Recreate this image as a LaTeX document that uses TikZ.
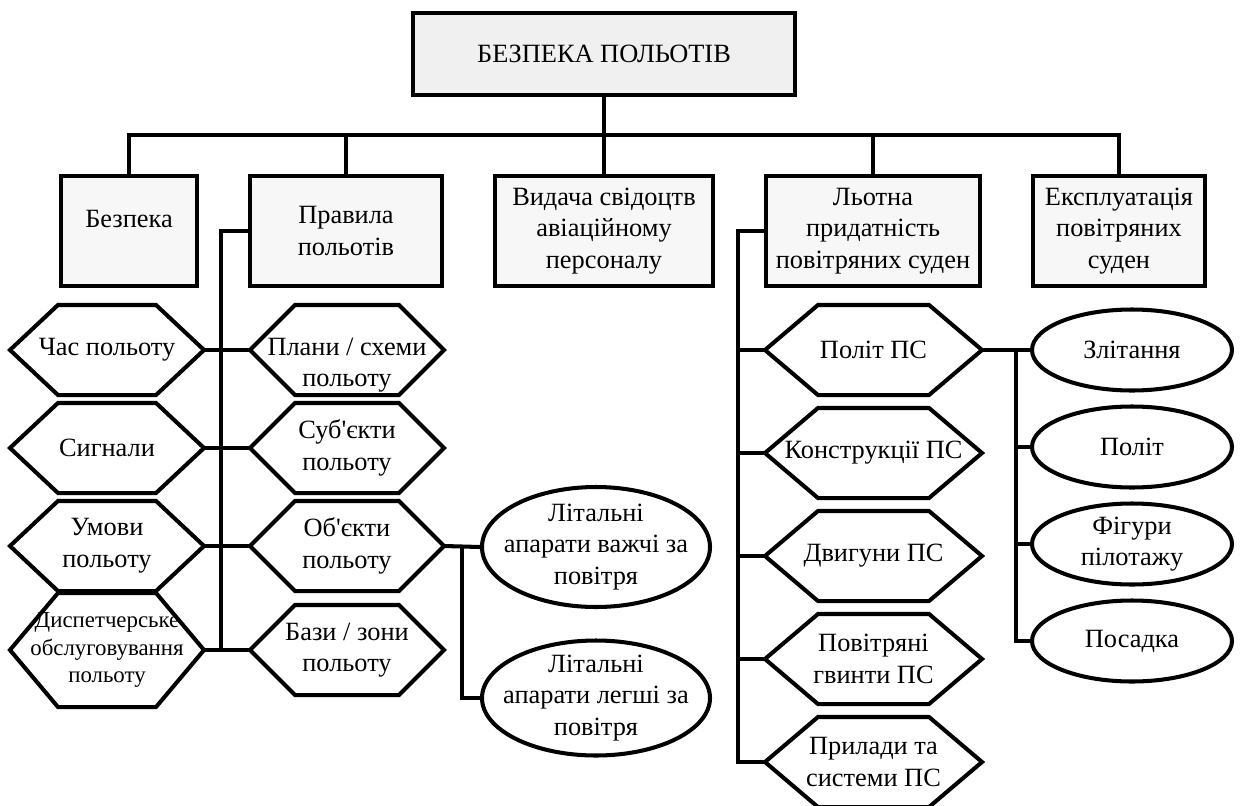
\documentclass[tikz,border=0pt]{standalone}
\usepackage{fontspec}
\setmainfont{Liberation Serif}[Ligatures=TeXOff]
\usetikzlibrary{positioning,calc,shapes.geometric}

\begin{document}
\begin{tikzpicture}[
    basic/.style={draw,line width=2.3pt,inner sep=0pt,align=center,font=\fontsize{15}{18}\selectfont},
    head/.style={basic,rectangle,fill=gray!12},
    section/.style={basic,rectangle,fill=gray!6,minimum height=2.2cm},
    hexa/.style={basic,draw=none,minimum width=3.8cm,minimum height=1.72cm},
    oval/.style={basic,ellipse,inner sep=-0.3cm},
    link/.style={line width=2.3pt},
    node distance=1.96cm, on grid,
]
\useasboundingbox (0,0) rectangle (25.02,-16.1);

        \node[head,minimum width=7.64cm,minimum height=1.64cm] (top) at (12.08,-1.08) {БЕЗПЕКА ПОЛЬОТІВ};
        \coordinate (bus) at ([yshift=-0.76cm]top.south);

        % second row
        \node[section,minimum width=2.72cm] (bez) at (2.58,-4.62) {\rule[-0.48cm]{0pt}{0.48cm}Безпека};
        \node[section,minimum width=3.84cm] (prav) at (6.92,-4.62) {Правила\\польотів};
        \node[section,minimum width=4.36cm] (vyd) at (12.08,-4.62) {Видача свідоцтв\\авіаційному\\персоналу};
        \node[section,minimum width=4.28cm] (lot) at (17.46,-4.62) {Льотна\\придатність\\повітряних суден};
        \node[section,minimum width=3.44cm] (eks) at (22.38,-4.62) {Експлуатація\\повітряних\\суден};
            \draw[link] (top.south) -- (bus);
        \foreach \b in {bez,prav,vyd,lot,eks}
            \draw[link] (\b.north) |- (bus);

        % rules of flight
        \node[hexa] (h1) at (2.14,-7.0) {Час польоту};
        \node[hexa,below=of h1] (h2) {Сигнали};
        \node[hexa,below=of h2] (h3) {Умови\\польоту};
        \node[hexa,below=2.08cm of h3,minimum height=2.2cm,font=\fontsize{13}{15.5}\selectfont] (h4) {Диспетчерське\\обслуговування\\польоту};
        \node[hexa] (p1) at (6.94,-7.0) {\rule{0pt}{0.95cm}Плани / схеми\\польоту};
        \node[hexa,below=of p1] (p2) {Суб'єкти\\польоту};
        \node[hexa,below=of p2] (p3) {Об'єкти\\польоту};
        \node[hexa,below=2.08cm of p3] (p4) {Бази / зони\\польоту};
        \coordinate (pb) at ([xshift=-0.58cm]p4.west);
            \draw[link] (prav.west) -| (pb);
        \foreach \i in {1,...,4}
            \draw[link] (h\i.east) -- (p\i.west);

        \node[oval,minimum width=4.56cm,minimum height=2.4cm] (e1) at (11.92,-10.94) {Літальні\\апарати важчі за\\повітря};
        \node[oval,minimum width=4.56cm,minimum height=2.3cm,below=3.02cm of e1] (e2) {Літальні\\апарати легші за\\повітря};
            \draw[link] (p3.east) -- (e1.west);
            \draw[link] ($(p3.east)!.5!(e1.west)$) |- (e2.west);

        % airworthiness
        \node[hexa,minimum width=4.26cm] (l1) at (17.47,-7.0) {Політ ПС};
        \node[hexa,minimum width=4.26cm,below=2.06cm of l1] (l2) {Конструкції ПС};
        \node[hexa,minimum width=4.26cm,below=2.06cm of l2] (l3) {Двигуни ПС};
        \node[hexa,minimum width=4.26cm,below=2.06cm of l3] (l4) {Повітряні\\гвинти ПС};
        \node[hexa,minimum width=4.26cm,below=2.06cm of l4] (l5) {Прилади та\\системи ПС};
        \coordinate (lb) at ([xshift=-0.54cm]l5.west);
            \draw[link] (lot.west) -| (lb) -- (l5.west);
        \foreach \i in {1,...,4}
            \draw[link] (l\i.west) -- (l\i.west -| lb);

        \node[oval,minimum width=4cm,minimum height=1.62cm] (z1) at (22.64,-7.0) {Злітання};
        \node[oval,minimum width=4cm,minimum height=1.62cm,below=1.94cm of z1] (z2) {Політ};
        \node[oval,minimum width=4cm,minimum height=1.62cm,below=1.94cm of z2] (z3) {Фігури\\пілотажу};
        \node[oval,minimum width=4cm,minimum height=1.62cm,below=1.94cm of z3] (z4) {Посадка};
        \coordinate (zb) at ([xshift=-0.28cm]z4.west);
            \draw[link] (l1.east) -- (z1.west);
            \draw[link] (z1.west -| zb) -- (zb) -- (z4.west);
        \foreach \i in {2,3}
            \draw[link] (z\i.west -| zb) -- (z\i.west);

        % hexagon outlines
        \foreach \n/\c in {h1/.96cm,h2/.96cm,h3/.96cm,h4/.96cm,p1/.9cm,p2/.9cm,p3/.9cm,p4/.9cm,l1/1.06cm,l2/1.06cm,l3/1.06cm,l4/1.06cm,l5/1.06cm}
            \draw[link] (\n.west) -- ([xshift=\c]\n.north west) -- ([xshift=-\c]\n.north east) -- (\n.east) -- ([xshift=-\c]\n.south east) -- ([xshift=\c]\n.south west) -- cycle;
\end{tikzpicture}
\end{document}
